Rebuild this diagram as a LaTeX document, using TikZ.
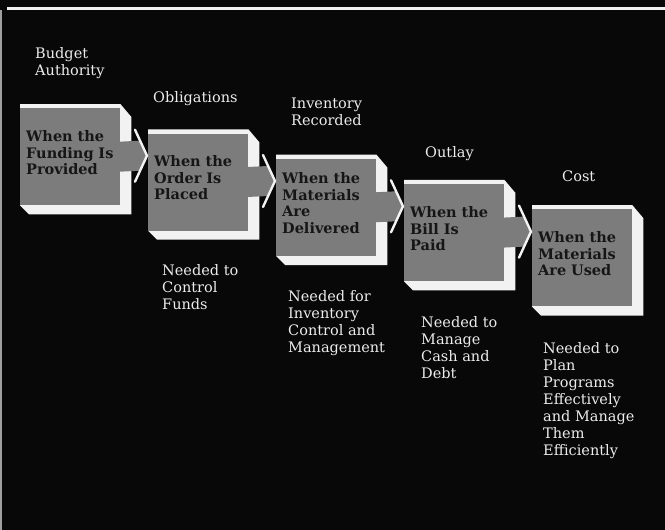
\documentclass[tikz,border=0pt]{standalone}
\usepackage{fontspec}
\setmainfont{DejaVu Serif}
\usepackage{xcolor}
\usepackage{tikz}
\usetikzlibrary{calc}
\definecolor{bgBlack}{RGB}{8,8,8}
\definecolor{faceGray}{RGB}{124,124,124}
\definecolor{faceText}{RGB}{22,22,22}
\definecolor{edgeWhite}{RGB}{242,242,242}
\definecolor{labelWhite}{RGB}{236,236,236}
\pgfdeclarelayer{back}
\pgfsetlayers{back,main}

\begin{document}
\begin{tikzpicture}[x=1pt,y=-1pt,
  face/.style={rectangle,fill=faceGray,anchor=north west,inner sep=0pt,
    minimum width=100pt,minimum height=97pt,text width=88pt,align=left,
    text=faceText,font=\fontsize{14.5}{16.5}\selectfont\bfseries},
  tag/.style={anchor=north west,inner sep=0pt,align=left,text=labelWhite,
    font=\fontsize{14.5}{17}\selectfont},
  tipline/.style={draw=edgeWhite,line width=2.4pt,line cap=round,line join=round}]
\useasboundingbox (0,0) rectangle (665,530);

\foreach \i/\txt in {1/{When the\\Funding Is\\Provided},
                     2/{When the\\Order Is\\Placed},
                     3/{When the\\Materials\\Are\\Delivered},
                     4/{When the\\Bill Is\\Paid},
                     5/{When the\\Materials\\Are Used}}
  \node[face] (f\i) at ({20+128*(\i-1)},{108+25.3*(\i-1)}) {\txt\endgraf\vspace{8pt}};

\begin{pgfonlayer}{back}
\fill[bgBlack] (0,0) rectangle (665,530);
\draw[edgeWhite,line width=3pt] (7,8) -- (665,8);
\draw[gray!75,line width=2pt] (1,10) -- (1,530);
\foreach \i in {1,...,5}
  \fill[edgeWhite] ($(f\i.north west)+(0,-4)$) -- ($(f\i.north east)+(0,-4)$)
    -- ($(f\i.north east)+(11,9)$) -- ($(f\i.south east)+(11,9)$)
    -- ($(f\i.south west)+(9,9)$) -- (f\i.south west) -- cycle;
\end{pgfonlayer}

\foreach \i [evaluate=\i as \j using int(\i+1)] in {1,...,4} {
  \coordinate (t\i) at ($(f\j.west |- f\i.east)+(-1,-1)$);
  \fill[faceGray] ($(f\i.east)+(-1,-15)$) -- ($(t\i)+(-7,-15)$) -- (t\i)
    -- ($(t\i)+(-7,15)$) -- ($(f\i.east)+(-1,15)$) -- cycle;
  \draw[tipline] ($(t\i)+(-12,-26)$) -- (t\i) -- ($(t\i)+(-12,26)$);
}

\node[tag] (ba) at (35,47) {Budget\\Authority};
\node[tag] (ob) at (153,91) {Obligations};
\node[tag] (ir) at (291,98) {Inventory\\Recorded};
\node[tag] (ou) at (425,146) {Outlay};
\node[tag] (co) at (562,171) {Cost};
\node[tag] (n1) at (162,264) {Needed to\\Control\\Funds};
\node[tag] (n2) at (288,290) {Needed for\\Inventory\\Control and\\Management};
\node[tag] (n3) at (421,316) {Needed to\\Manage\\Cash and\\Debt};
\node[tag] (n5) at (543,342) {Needed to\\Plan\\Programs\\Effectively\\and Manage\\Them\\Efficiently};
\end{tikzpicture}
\end{document}
